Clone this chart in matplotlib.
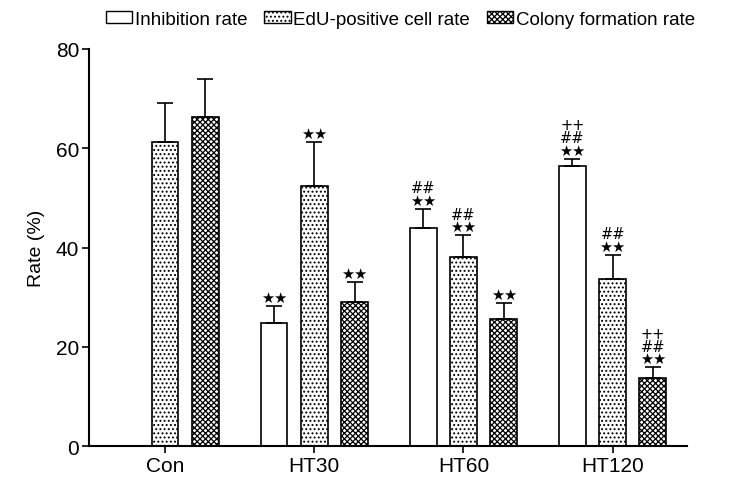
import numpy as np
import matplotlib.pyplot as plt
from matplotlib.patches import Patch

plt.rcParams['font.family'] = ['Liberation Sans', 'DejaVu Sans']
plt.rcParams['hatch.linewidth'] = 0.9

groups = ["Con", "HT30", "HT60", "HT120"]
series = ["Inhibition rate", "EdU-positive cell rate", "Colony formation rate"]

inhibition = [0, 24.9, 44.0, 56.4]
inhibition_err = [0, 3.4, 3.8, 1.5]
edu = [61.2, 52.4, 38.0, 33.7]
edu_err = [7.9, 8.8, 4.5, 4.9]
colony = [66.3, 29.1, 25.7, 13.7]
colony_err = [7.7, 4.0, 3.2, 2.2]

# significance marks above each bar
inhibition_sig = ["", "★★", "##\n★★", "++\n##\n★★"]
edu_sig = ["", "★★", "##\n★★", "##\n★★"]
colony_sig = ["", "★★", "★★", "++\n##\n★★"]

values = [inhibition, edu, colony]
errors = [inhibition_err, edu_err, colony_err]
sigs = [inhibition_sig, edu_sig, colony_sig]
hatches = [None, '....', 'xxxxxx']

fig, ax = plt.subplots(figsize=(7.35, 4.85), dpi=100)
fig.subplots_adjust(left=0.121, right=0.935, bottom=0.078, top=0.897)

x = np.arange(len(groups))
offset = 0.27
width = 0.18
for i in range(3):
    pos = x + (i - 1) * offset
    for j in range(len(groups)):
        if values[i][j] == 0:
            continue
        ax.bar(pos[j], values[i][j], width, color='white', edgecolor='black',
               linewidth=1.2, hatch=hatches[i], zorder=2)
        ax.errorbar(pos[j], values[i][j], yerr=[[0], [errors[i][j]]], fmt='none',
                    ecolor='black', elinewidth=1.2, capsize=6, capthick=1.2, zorder=3)
        if sigs[i][j]:
            ax.text(pos[j], values[i][j] + errors[i][j] + 0.2, sigs[i][j],
                    ha='center', va='bottom', fontsize=10.5, linespacing=0.8,
                    family=['DejaVu Sans'])

ax.set_xlim(-0.51, 3.5)
ax.set_ylim(0, 80)
ax.set_yticks([0, 20, 40, 60, 80])
ax.set_xticks(x)
ax.set_xticklabels(groups)
ax.set_ylabel("Rate (%)", fontsize=14, labelpad=8)
ax.tick_params(labelsize=15, width=1.2, length=5, pad=2)
for s in ['top', 'right']:
    ax.spines[s].set_visible(False)
for s in ['left', 'bottom']:
    ax.spines[s].set_linewidth(1.5)

handles = [Patch(facecolor='white', edgecolor='black', hatch=h, label=l)
           for h, l in zip(hatches, series)]
fig.legend(handles=handles, loc='upper center', bbox_to_anchor=(0.545, 1.01),
           ncol=3, frameon=False, fontsize=13.5, handlelength=1.4,
           handleheight=0.6, columnspacing=0.9, handletextpad=0.15)

fig.savefig("out.png", dpi=100)
